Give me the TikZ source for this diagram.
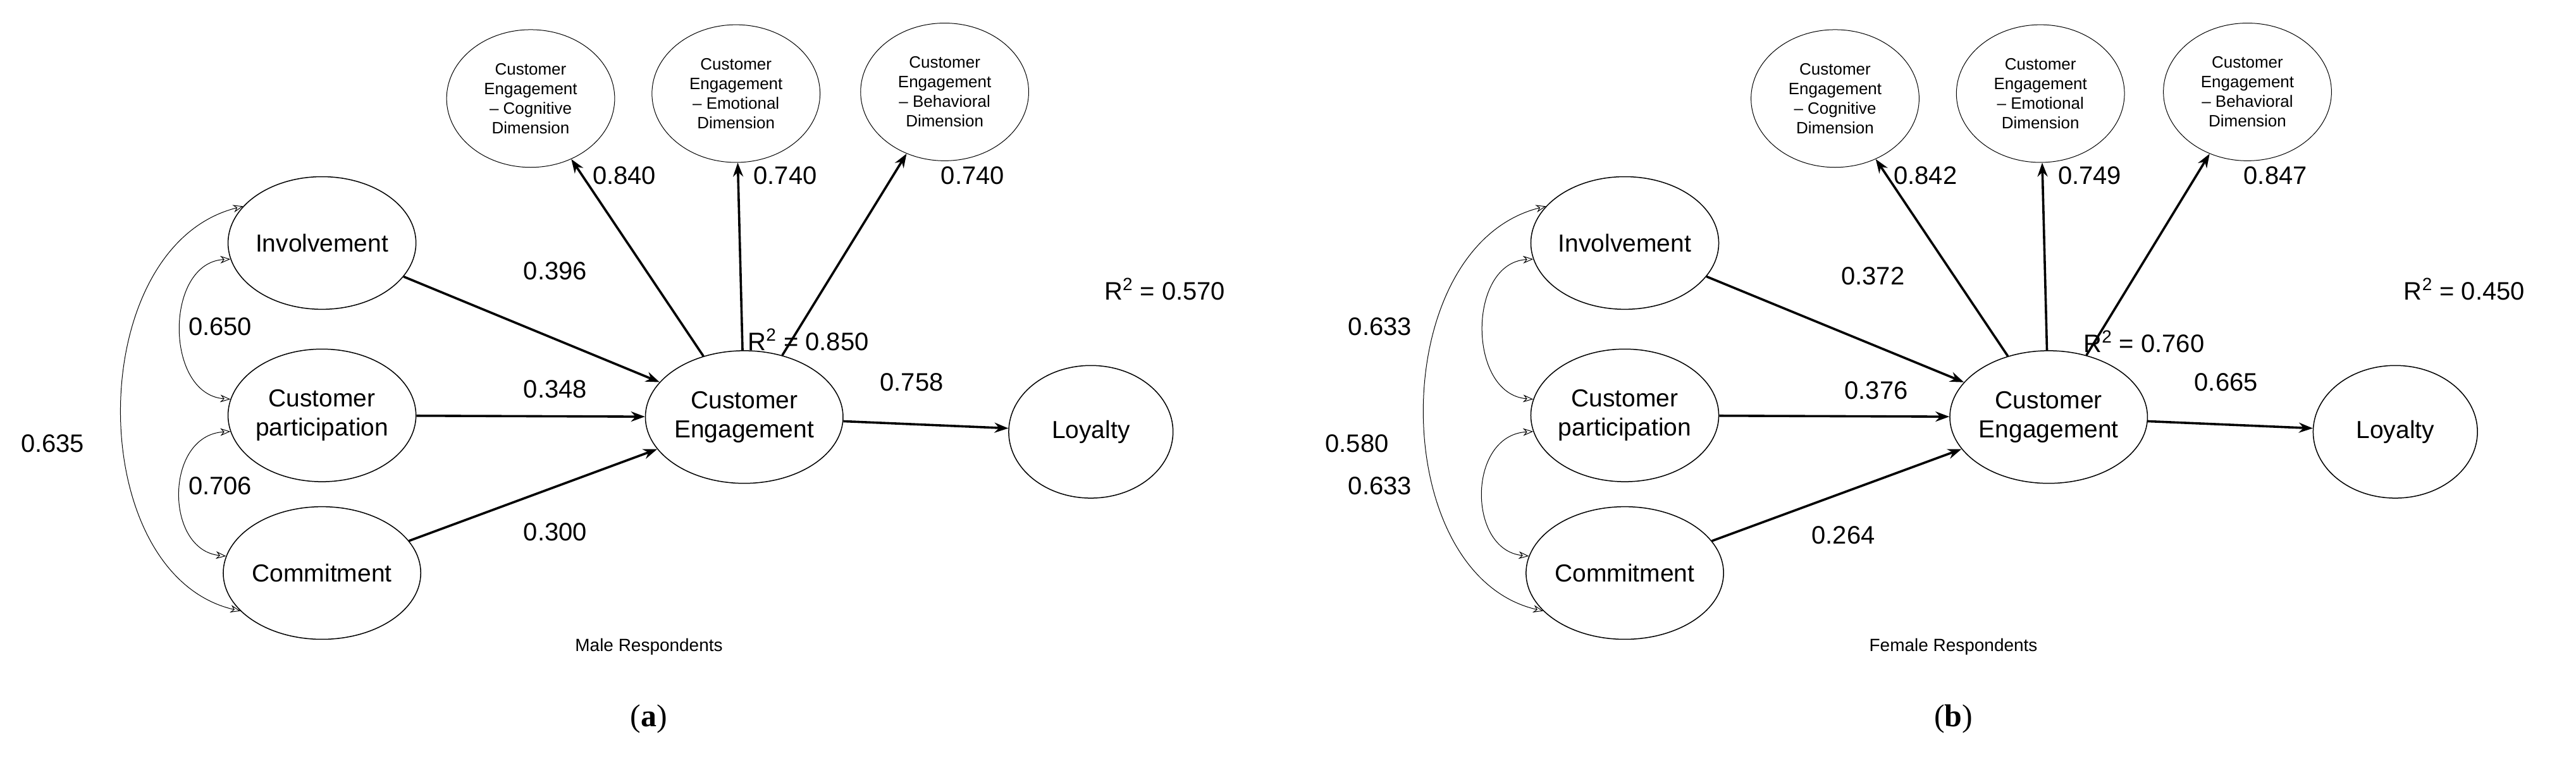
\documentclass[tikz,border=0pt]{standalone}
\usepackage{fontspec}
\setmainfont{Liberation Sans}
\newfontfamily\capfont{Liberation Serif}
\usetikzlibrary{shapes.geometric,arrows.meta}

\tikzset{every picture/.style={line width=0.75pt}}
\tikzset{
  construct/.style={ellipse,draw,inner sep=0pt,minimum width=130pt,minimum height=105pt,align=center,font=\fontsize{19.5}{23}\selectfont},
  dimension/.style={ellipse,draw,line width=0.5pt,inner sep=0pt,minimum width=133pt,minimum height=109pt,align=center,font=\fontsize{13}{15.5}\selectfont},
  effect/.style={line width=1.8pt,-{Stealth[length=11pt,width=8pt]}},
  corr/.style={line width=0.5pt,{Stealth[length=8pt,width=6pt,open]}-{Stealth[length=8pt,width=6pt,open]}},
  coef/.style={font=\fontsize{20}{23}\selectfont}
}

\begin{document}
\begin{tikzpicture}[x=1.3pt,y=1.3pt,yscale=-1,xscale=1]
\useasboundingbox (0,0) rectangle (1568,463.4);

% panel (a)
\node [construct] (inva) at (196,148) {Involvement};
\node [construct] (para) at (196,253) {Customer\\participation};
\node [construct] (coma) at (196,349) {Commitment};
\node [construct] (cea) at (453,254) {Customer\\Engagement};
\node [construct] (loya) at (664,263) {Loyalty};
\node [dimension] (coga) at (323,60) {Customer\\Engagement\\-- Cognitive\\Dimension};
\node [dimension] (emoa) at (448,57) {Customer\\Engagement\\-- Emotional\\Dimension};
\node [dimension] (beha) at (575,56) {Customer\\Engagement\\-- Behavioral\\Dimension};

\draw [effect] (inva) -- (cea);
\draw [effect] (para) -- (cea);
\draw [effect] (coma) -- (cea);
\draw [effect] (cea) -- (loya);
\draw [effect] (cea) -- (coga);
\draw [effect] (cea) -- (emoa);
\draw [effect] (cea) -- (beha);
\draw [corr] (inva.190) .. controls (100,160) and (100,240) .. (para.170);
\draw [corr] (para.190) .. controls (100,265) and (100,335) .. (coma.170);
\draw [corr] (inva.155) .. controls (50,150) and (50,350) .. (coma.205);

\node [coef] (l1a) at (380,107) {0.840};
\node [coef] (l2a) at (478,107) {0.740};
\node [coef] (l3a) at (592,107) {0.740};
\node [coef] (l4a) at (338,165) {0.396};
\node [coef] (l5a) at (338,237) {0.348};
\node [coef] (l6a) at (338,324) {0.300};
\node [coef] (l7a) at (555,233) {0.758};
\node [coef] (l8a) at (492,207) {R\textsuperscript{2} = 0.850};
\node [coef] (l9a) at (709,176) {R\textsuperscript{2} = 0.570};
\node [coef] (c1a) at (134,199) {0.650};
\node [coef] (c2a) at (134,296) {0.706};
\node [coef] (c3a) at (32,270) {0.635};
\node [font=\fontsize{14}{16}\selectfont] (tita) at (395,394) {Male Respondents};
\node [font=\capfont\fontsize{25}{29}\selectfont] (capa) at (395,438) {(\textbf{a})};

% panel (b)
\node [construct] (invb) at (989,148) {Involvement};
\node [construct] (parb) at (989,253) {Customer\\participation};
\node [construct] (comb) at (989,349) {Commitment};
\node [construct] (ceb) at (1247,254) {Customer\\Engagement};
\node [construct] (loyb) at (1458,263) {Loyalty};
\node [dimension] (cogb) at (1117,60) {Customer\\Engagement\\-- Cognitive\\Dimension};
\node [dimension] (emob) at (1242,57) {Customer\\Engagement\\-- Emotional\\Dimension};
\node [dimension] (behb) at (1368,56) {Customer\\Engagement\\-- Behavioral\\Dimension};

\draw [effect] (invb) -- (ceb);
\draw [effect] (parb) -- (ceb);
\draw [effect] (comb) -- (ceb);
\draw [effect] (ceb) -- (loyb);
\draw [effect] (ceb) -- (cogb);
\draw [effect] (ceb) -- (emob);
\draw [effect] (ceb) -- (behb);
\draw [corr] (invb.190) .. controls (893,160) and (893,240) .. (parb.170);
\draw [corr] (parb.190) .. controls (893,265) and (893,335) .. (comb.170);
\draw [corr] (invb.155) .. controls (843,150) and (843,350) .. (comb.205);

\node [coef] (l1b) at (1172,107) {0.842};
\node [coef] (l2b) at (1272,107) {0.749};
\node [coef] (l3b) at (1385,107) {0.847};
\node [coef] (l4b) at (1140,168) {0.372};
\node [coef] (l5b) at (1142,238) {0.376};
\node [coef] (l6b) at (1122,326) {0.264};
\node [coef] (l7b) at (1355,233) {0.665};
\node [coef] (l8b) at (1305,208) {R\textsuperscript{2} = 0.760};
\node [coef] (l9b) at (1500,176) {R\textsuperscript{2} = 0.450};
\node [coef] (c1b) at (840,199) {0.633};
\node [coef] (c2b) at (840,296) {0.633};
\node [coef] (c3b) at (826,270) {0.580};
\node [font=\fontsize{14}{16}\selectfont] (titb) at (1189,394) {Female Respondents};
\node [font=\capfont\fontsize{25}{29}\selectfont] (capb) at (1189,438) {(\textbf{b})};
\end{tikzpicture}
\end{document}
